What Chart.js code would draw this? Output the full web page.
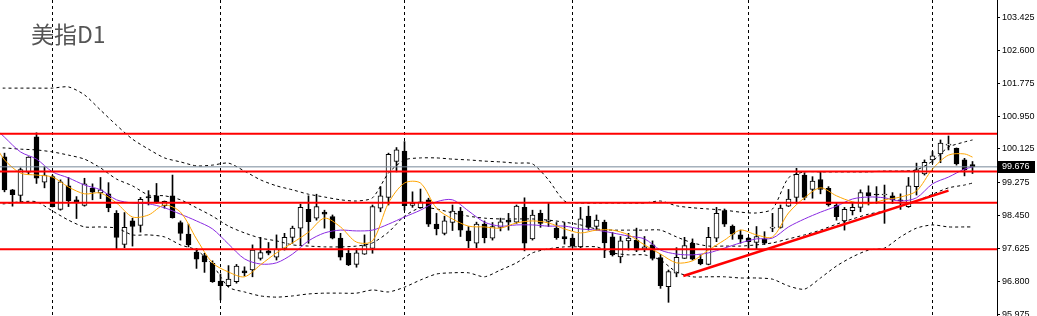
<!DOCTYPE html>
<html><head><meta charset="utf-8">
<script src="https://cdn.jsdelivr.net/npm/chart.js@4.4.1/dist/chart.umd.min.js"></script>
<style>html,body{margin:0;padding:0;background:#fff;overflow:hidden}canvas{display:block}</style>
</head><body>
<canvas id="c" width="1037" height="316"></canvas>
<script>
const chartTitle = '美指D1';
const open = [99.93,99.10,98.96,99.54,100.43,99.29,99.43,98.61,99.20,98.85, 98.71,99.14,99.02,99.00,98.51,97.73,98.32,98.21,98.93,98.95, 98.70,98.95,98.28,97.99,97.54,97.45,97.26,96.81,96.70,96.80, 97.07,97.09,97.38,97.57,97.41,97.63,97.91,98.14,98.61,98.39, 98.54,98.43,97.89,97.51,97.23,97.49,97.63,98.64,98.91,99.81, 100.07,98.71,98.65,98.85,98.24,98.01,98.28,98.57,98.07,97.76, 98.24,97.89,98.16,98.34,98.29,98.66,97.87,98.51,98.31,98.14, 97.93,97.89,97.67,98.44,98.18,98.29,97.92,97.42,97.82,97.84, 97.61,97.72,97.40,96.67,97.01,97.38,97.76,97.36,97.23,97.89, 98.58,98.19,97.97,97.89,97.78,97.87,98.14,98.16,98.69,98.91, 99.47,99.11,99.36,99.14,98.72,98.32,98.58,98.66,99.03,98.99, 98.97,98.95,98.85,98.68,99.18,99.50,99.85,100.00,100.22,100.14, 99.85,99.73];
const high = [100.02,99.11,99.65,99.93,100.53,99.68,99.47,99.35,99.41,98.93, 99.39,99.25,99.41,99.28,98.58,98.53,98.39,98.91,99.08,99.26, 98.82,99.47,98.32,98.24,97.63,97.51,97.32,96.99,97.20,97.23, 97.17,97.72,97.91,97.78,97.97,98.01,98.19,98.74,98.95,98.99, 98.59,98.47,98.01,97.63,97.63,97.97,98.72,99.18,100.02,100.16, 100.31,99.05,99.12,98.89,98.51,98.44,98.72,98.66,98.18,98.29, 98.32,98.28,98.39,98.51,98.72,98.90,98.59,98.59,98.77,98.28, 98.28,97.99,98.66,98.69,98.47,98.34,98.03,97.93,98.01,98.14, 97.93,97.82,97.48,97.09,97.65,97.91,97.87,97.47,98.16,98.66, 98.62,98.22,98.09,97.91,98.18,98.05,98.51,98.72,99.11,99.64, 99.53,99.43,99.55,99.18,98.78,98.66,98.79,99.10,99.20,99.18, 99.22,99.03,99.00,99.41,99.77,99.85,100.06,100.35,100.45,100.15, 99.89,99.81];
const low = [99.05,98.69,98.78,99.49,99.26,99.15,98.67,98.59,98.68,98.38, 98.69,98.85,98.88,98.55,97.62,97.65,97.69,98.04,98.72,98.76, 98.64,98.39,97.84,97.67,97.13,97.03,96.78,96.34,96.67,96.76, 96.94,96.92,97.34,97.47,97.34,97.59,97.76,97.72,97.76,98.34, 98.14,97.87,97.34,97.20,97.16,97.48,97.51,98.55,98.72,99.55, 98.59,98.66,98.64,98.18,97.97,97.97,98.08,97.93,97.65,97.65, 97.77,97.84,98.07,98.09,98.26,97.57,97.84,98.16,98.18,97.86, 97.74,97.65,97.65,98.09,98.09,97.40,97.44,97.27,97.59,97.55, 97.55,97.34,96.63,96.28,96.92,97.38,97.34,97.22,97.22,97.80, 98.18,97.86,97.76,97.61,97.61,97.73,98.05,98.14,98.68,98.76, 98.85,98.89,99.00,98.69,98.34,98.09,98.47,98.55,98.72,98.76, 98.26,98.76,98.61,98.66,98.97,99.47,99.77,99.78,100.10,99.72, 99.45,99.51];
const close = [99.10,98.98,99.61,99.92,99.39,99.47,98.68,99.30,98.82,98.79, 99.25,99.04,99.10,98.65,97.91,98.16,98.18,98.86,98.90,98.78, 98.81,98.40,98.01,97.72,97.36,97.29,96.80,96.70,96.86,97.19, 97.02,97.59,97.53,97.51,97.61,97.91,98.14,98.66,98.30,98.68, 98.49,97.89,97.41,97.22,97.52,97.70,98.68,98.95,99.99,100.10, 98.70,98.76,98.80,98.24,98.12,98.32,98.57,98.09,97.82,98.24, 97.90,98.18,98.30,98.29,98.69,97.76,98.47,98.26,98.34,97.90, 97.87,97.69,98.37,98.16,98.34,97.77,97.47,97.82,97.89,97.59, 97.67,97.38,96.70,97.05,97.41,97.70,97.36,97.24,97.91,98.51, 98.24,97.99,97.86,97.80,97.93,97.76,98.16,98.64,98.87,99.49, 98.91,99.32,99.11,98.72,98.43,98.61,98.66,99.03,98.95,98.97, 98.99,98.85,98.82,99.20,99.60,99.79,99.95,100.27,100.24,99.75, 99.60,99.676];

// indicator readings, sampled at these bar indices (-1 = just left of the visible edge)
const indIdx = [-1,0,2,4,6,8,10,12,14,16,18,20,22,24,26,28,30,32,34,36,38,40,42,44,46,48,50,52,54,56,58,60,62,64,66,68,70,72,74,76,78,80,82,84,86,88,90,92,94,96,98,100,102,104,106,108,110,112,114,116,118,120,121];
const maFast = [100.17,99.85,99.52,99.47,99.42,99.17,99.00,99.02,98.77,98.42,98.47, 98.72,98.54,97.87,97.27,97.04,96.92,97.22,97.52,97.77,98.04, 98.39,98.17,97.79,97.82,98.77,99.27,99.27,98.64,98.37,98.19, 98.17,98.14,98.27,98.32,98.27,98.12,98.02,98.09,98.09,97.97, 97.72,97.49,97.27,97.32,97.59,97.84,98.09,97.97,97.92,98.52, 98.90,99.15,98.95,98.80,98.75,98.85,98.92,99.07,99.62,99.97, 100.00,99.92];
const maSlow = [100.61,100.42,100.05,99.87,99.55,99.40,99.22,99.10,98.85,98.77,98.75, 98.65,98.49,98.32,98.12,97.74,97.37,97.24,97.27,97.49,97.82, 98.02,98.09,98.07,98.09,98.24,98.42,98.59,98.80,98.85,98.57, 98.29,98.19,98.22,98.22,98.19,98.19,98.12,98.09,98.02,97.94, 97.87,97.59,97.49,97.47,97.52,97.64,97.77,97.87,97.89,98.17, 98.37,98.54,98.69,98.87,98.92,98.90,98.82,98.90,99.25,99.42, 99.62,99.67];
const bbUpper = [101.65,101.65,101.65,101.65,101.65,101.68,101.48,101.10,100.72,100.37,100.12, 99.90,99.80,99.70,99.72,99.77,99.57,99.35,99.20,99.10,98.99, 98.92,98.85,98.82,98.90,99.52,99.85,99.90,99.90,99.87,99.85, 99.82,99.80,99.77,99.75,99.35,98.82,98.77,98.77,98.77,98.77, 98.77,98.82,98.70,98.65,98.62,98.59,98.54,98.52,98.62,99.40, 99.55,99.55,99.55,99.55,99.55,99.57,99.57,99.60,99.82,100.17, 100.30,100.35];
const bbMid = [100.15,100.15,100.12,100.10,100.05,99.97,99.87,99.65,99.37,99.20,98.97, 98.95,98.85,98.65,98.44,98.19,98.02,97.89,97.82,97.72,97.69, 97.67,97.67,97.69,97.77,98.04,98.44,98.65,98.62,98.52,98.44, 98.39,98.37,98.37,98.37,98.34,98.29,98.22,98.12,98.09,98.09, 98.09,98.09,97.92,97.77,97.69,97.69,97.69,97.72,97.77,97.87, 97.97,98.09,98.24,98.37,98.49,98.57,98.70,98.82,98.99,99.15, 99.22,99.27];
const bbLower = [98.75,98.75,98.80,98.80,98.57,98.34,98.17,98.17,98.14,97.97,97.97, 97.92,97.72,97.59,97.22,96.66,96.54,96.44,96.41,96.44,96.49, 96.51,96.51,96.51,96.59,96.54,96.66,96.84,96.99,97.02,97.02, 96.92,97.09,97.27,97.52,97.62,97.67,97.67,97.67,97.52,97.47, 97.47,97.34,97.04,96.92,96.92,96.92,96.89,96.89,96.86,96.69, 96.61,96.89,97.19,97.42,97.59,97.64,97.92,98.14,98.22,98.17, 98.17,98.17];

const levels = [100.507, 99.559, 98.777, 97.609];
const trendBars = [84.85, 118];
const trendVals = [96.94, 99.08];
const lastPrice = 99.676;
const yTicks = [103.425, 102.600, 101.775, 100.950, 100.125, 99.275, 98.450, 97.625, 96.800, 95.975];
const separators = [6, 27, 50, 71, 93, 116];
const yMin = 95.937, yMax = 103.859;
const xMin = -0.5625, xMax = 124.0625;

const idx = close.map((_, i) => i);
const wicks = idx.map(i => ({x: i, y: [low[i], high[i]]}));
const bodies = idx.map(i => ({x: i, y: [open[i], close[i]]}));
const bodyFill = idx.map(i => close[i] >= open[i] ? '#ffffff' : '#000000');
const pts = arr => indIdx.map((k, j) => ({x: k, y: arr[j]}));
const hline = v => [{x: xMin - 2, y: v}, {x: xMax + 2, y: v}];

const lineDs = (data, color, width, extra) => Object.assign({
  type: 'line', data, borderColor: color, borderWidth: width,
  pointRadius: 0, fill: false, tension: 0
}, extra || {});

const datasets = [
  {type: 'bar', data: wicks, backgroundColor: '#000', borderWidth: 0, barThickness: 1, grouped: false, order: 20},
  {type: 'bar', data: bodies, backgroundColor: bodyFill, borderColor: '#000', borderWidth: 1,
   borderSkipped: false, barThickness: 5, minBarLength: 1, grouped: false, order: 19},
  lineDs(pts(bbUpper), '#000', 1, {borderDash: [3, 3], tension: 0.25, order: 8}),
  lineDs(pts(bbMid), '#000', 1, {borderDash: [3, 3], tension: 0.25, order: 8}),
  lineDs(pts(bbLower), '#000', 1, {borderDash: [3, 3], tension: 0.25, order: 8}),
  lineDs(pts(maSlow), '#8a2be2', 1, {tension: 0.3, order: 6}),
  lineDs(pts(maFast), '#ffa500', 1, {tension: 0.3, order: 5}),
  lineDs(hline(lastPrice), '#778899', 1, {order: 4}),
  ...levels.map(v => lineDs(hline(v), '#ff0000', 2, {order: 3})),
  lineDs(trendBars.map((b, j) => ({x: b, y: trendVals[j]})), '#ff0000', 2.5, {order: 2})
];

const overlay = {
  id: 'overlay',
  afterDraw(chart) {
    const ctx = chart.ctx;
    const ys = chart.scales.y;
    ctx.save();
    ctx.fillStyle = '#555555';
    ctx.font = '23px "Noto Sans CJK SC", "Noto Sans", sans-serif';
    ctx.textBaseline = 'alphabetic';
    ctx.fillText(chartTitle, 31, 43);
    const py = ys.getPixelForValue(lastPrice);
    ctx.fillStyle = '#000';
    ctx.fillRect(chart.chartArea.right + 1, Math.round(py) - 6, 37, 12);
    ctx.fillStyle = '#fff';
    ctx.font = '9px "Liberation Sans", Arial, sans-serif';
    ctx.textBaseline = 'middle';
    ctx.fillText(lastPrice.toFixed(3), chart.chartArea.right + 5, Math.round(py));
    ctx.restore();
  }
};

const zeroPad = s => { s.paddingTop = 0; s.paddingBottom = 0; s.paddingLeft = 0; s.paddingRight = 0; };

new Chart(document.getElementById('c').getContext('2d'), {
  type: 'bar',
  data: {datasets},
  options: {
    responsive: false, animation: false, devicePixelRatio: 1,
    layout: {padding: 0},
    plugins: {legend: {display: false}, tooltip: {enabled: false}, title: {display: false}},
    scales: {
      x: {
        type: 'linear', min: xMin, max: xMax, offset: false,
        afterBuildTicks: s => { s.ticks = separators.map(v => ({value: v})); },
        afterFit: s => { s.height = 0; zeroPad(s); },
        ticks: {display: false},
        grid: {display: true, offset: false, drawTicks: false, color: '#000', lineWidth: 1},
        border: {display: false, dash: [3, 3]}
      },
      y: {
        type: 'linear', position: 'right', min: yMin, max: yMax,
        afterBuildTicks: s => { s.ticks = yTicks.map(v => ({value: v})); },
        afterFit: s => { s.width = 40; zeroPad(s); },
        ticks: {autoSkip: false, padding: 2, color: '#000',
                font: {family: '"Liberation Sans", Arial, sans-serif', size: 9},
                callback: v => Number(v).toFixed(3)},
        grid: {drawOnChartArea: false, drawTicks: true, tickLength: 3, color: '#000'},
        border: {display: true, color: '#000', width: 1}
      }
    }
  },
  plugins: [overlay]
});
</script>
</body></html>
